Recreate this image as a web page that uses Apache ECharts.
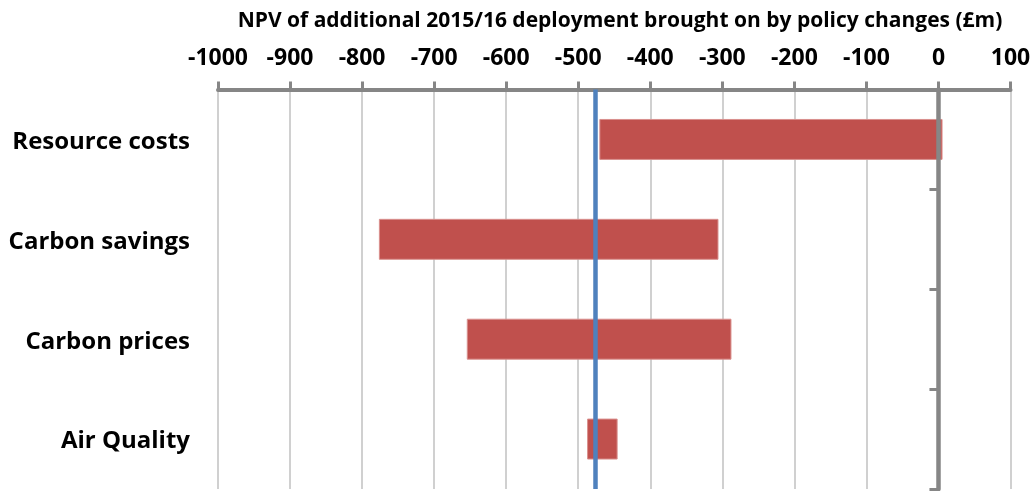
<!DOCTYPE html>
<html>
<head>
<meta charset="utf-8">
<script src="https://cdn.jsdelivr.net/npm/echarts@6/dist/echarts.min.js"></script>
<style>
  html, body { margin: 0; padding: 0; background: #ffffff; }
  #chart { width: 1036px; height: 491px; }
</style>
</head>
<body>
<div id="chart"></div>
<script>
// Range of NPV impact per benefit category (£m)
const categories = ['Resource costs', 'Carbon savings', 'Carbon prices', 'Air Quality'];
const lowValues = [-470, -776, -654, -487];
const highValues = [5, -306, -288, -446];
const centralValue = -476;
const axisMin = -1000;
const axisMax = 100;
const axisStep = 100;
const axisTitle = 'NPV of additional 2015/16 deployment brought on by policy changes (£m)';

const FONT = '"Open Sans", "Noto Sans", sans-serif';

const rangeData = categories.map((c, i) => [i, lowValues[i], highValues[i]]);

const chart = echarts.init(document.getElementById('chart'), null, { renderer: 'canvas' });

chart.setOption({
  animation: false,
  backgroundColor: '#ffffff',
  title: {
    text: axisTitle,
    left: 615,
    top: 6,
    textAlign: 'center',
    textStyle: { fontFamily: FONT, fontWeight: 'bold', fontSize: 21, color: '#000000' }
  },
  grid: { left: 218, right: 25.5, top: 89.5, bottom: 2, containLabel: false },
  xAxis: {
    type: 'value',
    position: 'top',
    min: axisMin,
    max: axisMax,
    interval: axisStep,
    axisLine: { show: true, lineStyle: { color: '#868686', width: 4 } },
    axisTick: { show: true, length: 8, lineStyle: { color: '#868686', width: 3 } },
    axisLabel: {
      margin: 20,
      formatter: function (v) { return String(v); },
      fontFamily: FONT, fontWeight: 'bold', fontSize: 23, color: '#000000'
    },
    splitLine: { show: true, lineStyle: { color: '#c0c0c0', width: 1.5 } }
  },
  yAxis: [
    {
      type: 'category',
      data: categories,
      inverse: true,
      axisLine: { show: false, onZero: false },
      axisTick: { show: false },
      axisLabel: {
        margin: 28,
        formatter: function (v) { return '{c|' + v + '}'; },
        rich: {
          c: {
            padding: [5, 0, 0, 0],
            fontFamily: FONT, fontWeight: 'bold', fontSize: 24, color: '#000000'
          }
        },
        fontFamily: FONT, fontWeight: 'bold', fontSize: 24, color: '#000000'
      },
      splitLine: { show: false }
    },
    {
      type: 'category',
      data: categories,
      inverse: true,
      position: 'left',
      z: 6,
      axisLine: { show: true, onZero: true, onZeroAxisIndex: 0, lineStyle: { color: '#868686', width: 4.5 } },
      axisTick: { show: true, length: 9, lineStyle: { color: '#868686', width: 3 } },
      axisLabel: { show: false },
      splitLine: { show: false }
    }
  ],
  series: [
    {
      type: 'custom',
      name: 'Range',
      yAxisIndex: 0,
      data: rangeData,
      encode: { x: [1, 2], y: 0 },
      renderItem: function (params, api) {
        const cat = api.value(0);
        const start = api.coord([api.value(1), cat]);
        const end = api.coord([api.value(2), cat]);
        const h = api.size([0, 1])[1] * 0.4;
        return {
          type: 'rect',
          shape: { x: start[0], y: start[1] - h / 2, width: end[0] - start[0], height: h },
          style: { fill: '#c0504d', stroke: '#d9908e', lineWidth: 1 }
        };
      },
      markLine: {
        silent: true,
        symbol: 'none',
        label: { show: false },
        lineStyle: { color: '#4f81bd', width: 4.5, type: 'solid' },
        data: [{ xAxis: centralValue }]
      },
      z: 3
    }
  ]
});
</script>
</body>
</html>
